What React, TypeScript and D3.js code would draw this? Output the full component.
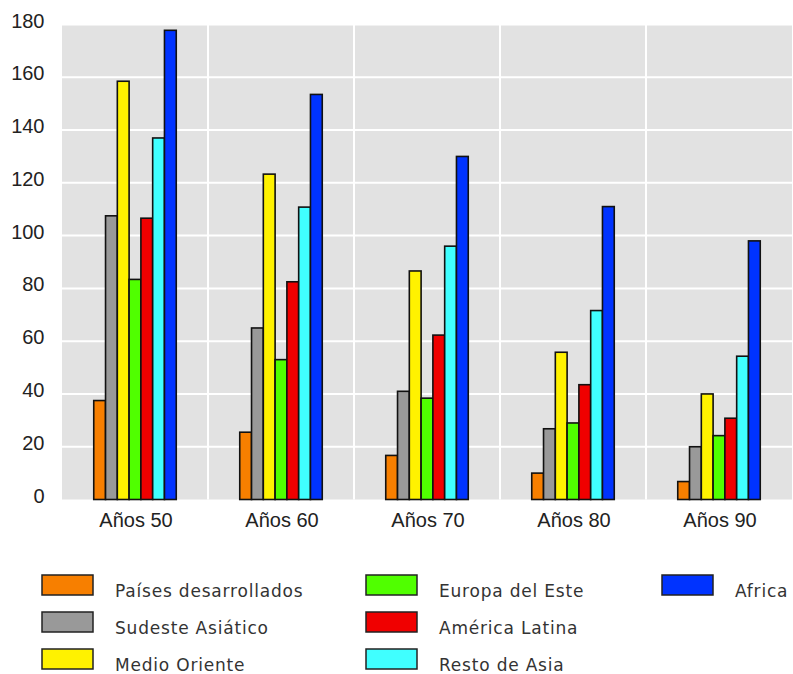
import React from "react";
import * as d3 from "d3";

const categories = ["Años 50", "Años 60", "Años 70", "Años 80", "Años 90"];
const seriesNames = [
  "Países desarrollados",
  "Sudeste Asiático",
  "Medio Oriente",
  "Europa del Este",
  "América Latina",
  "Resto de Asia",
  "Africa",
];
const paisesDesarrollados = [37.5, 25.5, 16.7, 10, 6.8];
const sudesteAsiatico = [107.5, 65, 41, 26.8, 20];
const medioOriente = [158.5, 123.3, 86.6, 55.8, 40];
const europaDelEste = [83.4, 53, 38.4, 29, 24.2];
const americaLatina = [106.6, 82.5, 62.3, 43.5, 30.8];
const restoDeAsia = [137, 110.8, 96, 71.6, 54.3];
const africa = [177.8, 153.5, 130, 111, 98];
const yTicks = [0, 20, 40, 60, 80, 100, 120, 140, 160, 180];

const seriesValues = [
  paisesDesarrollados,
  sudesteAsiatico,
  medioOriente,
  europaDelEste,
  americaLatina,
  restoDeAsia,
  africa,
];
const colors = ["#f77f00", "#999999", "#fff200", "#50ff00", "#f00000", "#40ffff", "#0033ff"];

const W = 793;
const H = 674;
const plotLeft = 62;
const plotRight = 792;

export default function App() {
  const x0 = d3.scaleBand<string>().domain(categories).range([plotLeft, plotRight]).padding(0);
  const y = d3.scaleLinear().domain([0, 180]).range([499.5, 24.5]);
  const bw = x0.bandwidth();
  const groupW = 82.5;
  const x1 = d3
    .scaleBand<string>()
    .domain(seriesNames)
    .range([(bw - groupW) / 2, (bw + groupW) / 2])
    .padding(0);

  const legendCols = [42, 366, 662];
  const legendRows = [575, 612, 649];
  const legendPos = [
    [0, 0], [0, 1], [0, 2], [1, 0], [1, 1], [1, 2], [2, 0],
  ];

  return (
    <svg
      width={W}
      height={H}
      style={{ position: "absolute", left: 0, top: 0, background: "#fff" }}
      fontFamily="'Liberation Sans', Arial, sans-serif"
    >
      <rect x={plotLeft} y={y(180)} width={plotRight - plotLeft} height={y(0) - y(180)} fill="#e2e2e2" />
      {yTicks.filter((t) => t > 0).map((t) => (
        <line key={"h" + t} x1={plotLeft} x2={plotRight} y1={y(t)} y2={y(t)} stroke="#fff" strokeWidth={2} />
      ))}
      {categories.slice(1).map((c) => (
        <line key={"v" + c} x1={x0(c)!} x2={x0(c)!} y1={y(180)} y2={y(0)} stroke="#fff" strokeWidth={2} />
      ))}
      {categories.map((c, ci) => (
        <g key={c} transform={`translate(${x0(c)},0)`}>
          {seriesNames.map((s, si) => {
            const v = seriesValues[si][ci];
            return (
              <rect
                key={s}
                x={x1(s)!}
                y={y(v)}
                width={x1.bandwidth()}
                height={y(0) - y(v)}
                fill={colors[si]}
                stroke="#111"
                strokeWidth={1.6}
              />
            );
          })}
        </g>
      ))}
      {yTicks.map((t) => (
        <text key={"yt" + t} x={44.5} y={y(t) + 3} textAnchor="end" fontSize={20} fill="#222">
          {t}
        </text>
      ))}
      {categories.map((c) => (
        <text key={"xt" + c} x={x0(c)! + bw / 2 + 1} y={526.5} textAnchor="middle" fontSize={20} fill="#222">
          {c}
        </text>
      ))}
      {seriesNames.map((s, si) => {
        const [col, row] = legendPos[si];
        const lx = legendCols[col];
        const ly = legendRows[row];
        return (
          <g key={"lg" + s}>
            <rect x={lx} y={ly} width={51} height={20} fill={colors[si]} stroke="#222" strokeWidth={1.5} />
            <text
              x={lx + 73}
              y={ly + 22}
              fontSize={17}
              fontFamily="'DejaVu Sans', sans-serif"
              fill="#333"
              letterSpacing={0.8}
            >
              {s}
            </text>
          </g>
        );
      })}
    </svg>
  );
}
